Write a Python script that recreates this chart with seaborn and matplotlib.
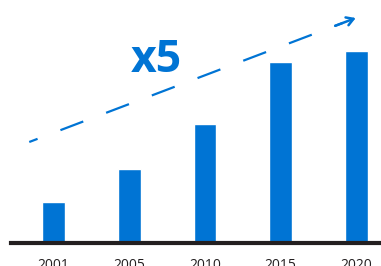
# %% Imports
import pandas as pd
import seaborn as sns
import matplotlib.pyplot as plt

# %% Data
years = ["2001", "2005", "2010", "2015", "2020"]
values = [41, 74, 119, 181, 192]  # bar heights (index units)
growth_label = "x5"
trend_x = [-0.32, 3.99]
trend_y = [101, 225]

BLUE = "#0074D4"
DARK = "#231F20"


# %%
def plot_growth(save_path="out.png"):
    sns.set_style("white")
    plt.rcParams["font.family"] = ["Open Sans", "DejaVu Sans"]
    df = pd.DataFrame({"year": years, "value": values})

    fig = plt.figure(figsize=(3.81, 2.66), dpi=100)
    ax = fig.add_axes([11 / 381, 23 / 266, 370 / 381, 243 / 266])
    sns.barplot(data=df, x="year", y="value", color=BLUE, saturation=1, width=0.3, ax=ax)

    ax.set_xlim(-0.561, 4.323)
    ax.set_ylim(0, 243)
    ax.set_xlabel("")
    ax.set_ylabel("")
    ax.set_yticks([])
    ax.tick_params(axis="x", length=0, pad=10.5, labelsize=10, labelcolor=DARK)
    for side in ["top", "left", "right"]:
        ax.spines[side].set_visible(False)
    ax.spines["bottom"].set_linewidth(3)
    ax.spines["bottom"].set_color(DARK)
    ax.spines["bottom"].set_zorder(5)

    # dashed trend line, stopped a little short of the arrow tip
    frac = 0.96
    end_x = trend_x[0] + frac * (trend_x[1] - trend_x[0])
    end_y = trend_y[0] + frac * (trend_y[1] - trend_y[0])
    ax.plot([trend_x[0], end_x], [trend_y[0], end_y], color=BLUE, lw=1.6,
            linestyle=(7, (11, 11)), clip_on=False)
    ax.annotate(
        "",
        xy=(trend_x[1], trend_y[1]),
        xytext=(end_x - 0.1, end_y - 0.1 * (trend_y[1] - trend_y[0]) / (trend_x[1] - trend_x[0])),
        arrowprops=dict(arrowstyle="->,head_length=0.5,head_width=0.3", color=BLUE, lw=1.8,
                        mutation_scale=10, shrinkA=0, shrinkB=0),
        annotation_clip=False,
    )

    ax.text(1.36, 183, growth_label, color=BLUE, fontsize=32, fontweight="bold", ha="center", va="center")

    fig.savefig(save_path, dpi=100)
    return


if __name__ == "__main__":
    plot_growth()
